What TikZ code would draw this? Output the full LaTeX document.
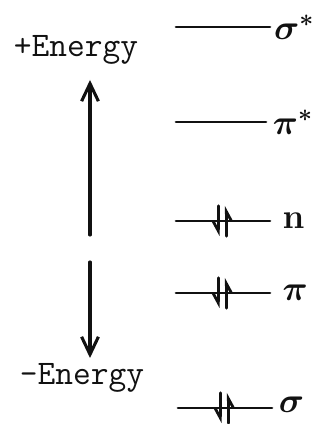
\documentclass[tikz,border=0pt]{standalone}
\usepackage{amsmath,amssymb}
\usepackage{tikz}
\usetikzlibrary{arrows.meta,positioning,calc}
\definecolor{ink}{HTML}{111111}
\tikzset{
  arr/.style={-{Straight Barb[length=4.4mm,width=4.2mm,line width=2.2pt]}, line width=2.2pt, draw=ink},
  figbase/.style={
    color=ink,
    line cap=round,
    line join=round,
  },
  level/.style={draw=ink, line width=1.9pt},
  spinup/.style={-{Straight Barb[right,length=2.4mm,width=2.6mm]}, line width=2pt, draw=ink},
  spindn/.style={-{Straight Barb[right,length=2.4mm,width=2.6mm]}, line width=2pt, draw=ink},
  elab/.style={font=\fontsize{24.5}{28}\selectfont\ttfamily, text=ink, inner sep=1pt},
  olab/.style={font=\fontsize{25}{30}\selectfont\boldmath, text=ink, inner sep=1pt, anchor=west},
}

\begin{document}
\begin{tikzpicture}[figbase]
  \useasboundingbox (0,0) rectangle (8.075,10.6);

  % energy axis
  \node[elab] (hi) at (1.9,9.35) {+Energy};
  \node[elab] (lo) at (2.05,1.15) {-Energy};
  \coordinate (gaptop) at (2.25,4.725);
  \coordinate (gapbot) at (2.25,4.05);
  \draw[arr] (gaptop) -- (2.25,8.6) coordinate (uptip);
  \draw[arr] (gapbot) -- (2.25,1.65) coordinate (dntip);

  % orbital levels
  \coordinate (ssL) at (4.4,9.925);  \coordinate (ssR) at (6.75,9.925);
  \coordinate (psL) at (4.4,7.55);   \coordinate (psR) at (6.65,7.55);
  \coordinate (nL)  at (4.4,5.075);  \coordinate (nR)  at (6.75,5.075);
  \coordinate (pL)  at (4.4,3.275);  \coordinate (pR)  at (6.75,3.275);
  \coordinate (sL)  at (4.45,0.4);   \coordinate (sR)  at (6.8,0.4);

  \draw[level] (ssL) -- (ssR) node[olab, right=1pt] (ssl) {$\sigma^{*}$};
  \draw[level] (psL) -- (psR) node[olab, right=3pt] (psl) {$\pi^{*}$};
  \draw[level] (nL) -- (nR) node[olab, right=7pt] (nl) {$\mathbf{n}$};
  \draw[level] (pL) -- (pR) node[olab, right=7pt] (pl) {$\pi$};
  \draw[level] (sL) -- (sR) node[olab, right=3pt, yshift=2pt] (sl) {$\sigma$};

  % electron pairs
  \foreach \lv in {n,p,s}{
    \coordinate (m) at ($(\lv L)!0.5!(\lv R)$);
    \draw[spindn] ($(m)+(-0.12,0.38)$) -- ($(m)+(-0.12,-0.38)$);
    \draw[spinup] ($(m)+(0.08,-0.38)$) -- ($(m)+(0.08,0.38)$);
  }
\end{tikzpicture}
\end{document}
